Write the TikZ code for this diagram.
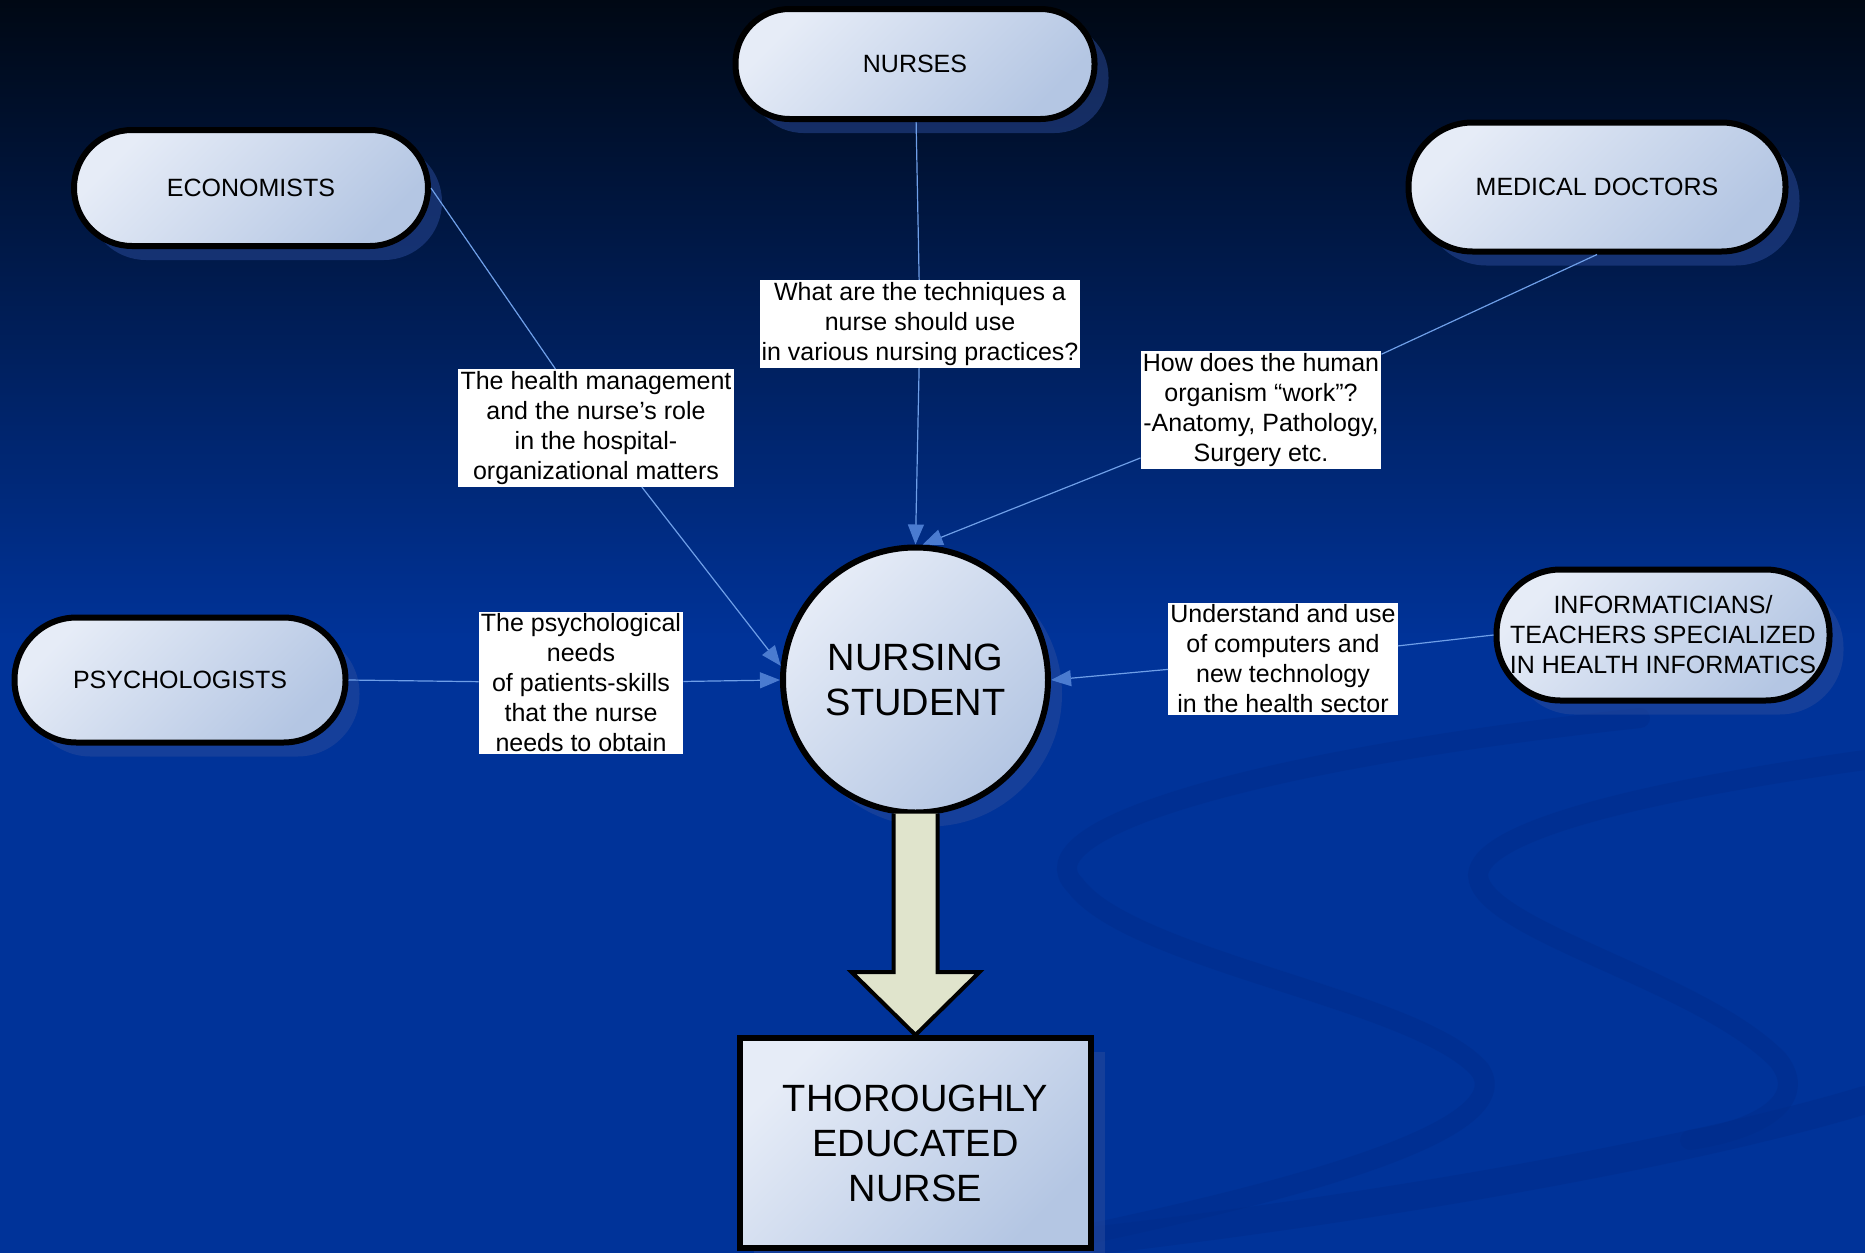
\documentclass[tikz,border=0pt]{standalone}
\usepackage{fontspec}
\setmainfont{Liberation Sans}
\usetikzlibrary{arrows.meta,positioning,calc,shadows}
\pgfdeclarelayer{bglayer}
\pgfsetlayers{bglayer,main}
\definecolor{bgtop}{HTML}{000814}
\definecolor{bgblue}{HTML}{003399}
\definecolor{swoosh}{HTML}{002C8A}
\definecolor{nodehi}{HTML}{E6ECF7}
\definecolor{nodelo}{HTML}{B4C6E3}
\definecolor{shadowblue}{HTML}{2A4B9C}
\definecolor{linkblue}{HTML}{6F9FE8}
\definecolor{tipblue}{HTML}{4A7BD0}
\definecolor{arrowfill}{HTML}{E0E4CC}
\newcommand{\boxfont}{\fontsize{12.5}{15}\selectfont}
\newcommand{\bigfont}{\fontsize{19}{22.5}\selectfont}
\tikzset{every picture/.style={line width=0.5pt}}
\tikzstyle{shape3d}=[draw=black,line width=3pt,top color=nodehi,bottom color=nodelo,shading angle=45,align=center,inner sep=0pt,drop shadow={shadow xshift=7pt,shadow yshift=-7pt,fill=shadowblue,opacity=0.5}]
\tikzstyle{pill}=[shape3d,rectangle,font=\boxfont]
\tikzstyle{lbl}=[fill=white,inner sep=1pt,align=center,font=\boxfont]
\tikzstyle{link}=[draw=linkblue,line width=0.6pt]
\tikzstyle{bigarrow}=[fill=arrowfill,draw=black,line width=2pt,line join=miter]
\tikzstyle{band}=[swoosh,opacity=0.45,line width=10pt,line cap=round]

\begin{document}
\begin{tikzpicture}[x=0.5pt,y=-0.5pt]
\useasboundingbox (0,0) rectangle (1865,1253);
\begin{pgfonlayer}{bglayer}
\fill[bgblue] (0,0) rectangle (1865,1253);
\shade[top color=bgtop,bottom color=bgblue] (0,0) rectangle (1865,640);
% swooshes
\draw[band] (1640,718) .. controls (1250,760) and (1020,830) .. (1075,885) .. controls (1130,960) and (1420,1000) .. (1480,1070) .. controls (1520,1130) and (1300,1190) .. (1060,1240);
\draw[band] (1865,760) .. controls (1650,790) and (1480,830) .. (1478,875) .. controls (1480,930) and (1700,980) .. (1778,1060) .. controls (1810,1100) and (1760,1130) .. (1690,1140);
\draw[band,line width=14pt] (1100,1240) .. controls (1400,1205) and (1700,1150) .. (1865,1100);
\end{pgfonlayer}

\node[pill,rounded corners=27pt,minimum width=179.5pt,minimum height=55pt] (nurses) at (915,64) {NURSES};
\node[pill,rounded corners=29pt,minimum width=177pt,minimum height=58pt] (econ) at (251,188) {ECONOMISTS};
\node[pill,rounded corners=32pt,minimum width=188.5pt,minimum height=64.5pt] (md) at (1597,187) {MEDICAL DOCTORS};
\node[pill,rounded corners=31pt,minimum width=165.5pt,minimum height=62.5pt] (psy) at (180,680) {PSYCHOLOGISTS};
\node[pill,rounded corners=32pt,minimum width=166.5pt,minimum height=65.5pt] (info) at (1663,635) {INFORMATICIANS/\\TEACHERS SPECIALIZED\\IN HEALTH INFORMATICS};
\node[shape3d,circle,minimum size=132.5pt,font=\bigfont] (stu) at (915.5,680) {NURSING\\STUDENT};
\node[shape3d,rectangle,minimum width=175.5pt,minimum height=105pt,font=\bigfont] (edu) at (915.5,1143) {THOROUGHLY\\EDUCATED\\NURSE};

\node[lbl] (lblN) at (920,324) {What are the techniques a\\nurse should use\\in various nursing practices?};
\node[lbl] (lblE) at (596,428) {The health management\\and the nurse’s role\\in the hospital-\\organizational matters};
\node[lbl] (lblM) at (1261,410) {How does the human\\organism “work”?\\-Anatomy, Pathology,\\Surgery etc.};
\node[lbl] (lblP) at (581,683) {The psychological\\needs\\of patients-skills\\that the nurse\\needs to obtain};
\node[lbl] (lblI) at (1283,659) {Understand and use\\of computers and\\new technology\\in the health sector};

\path[link]
(nurses) edge (lblN)
(econ.east) edge (lblE)
(md.south) edge (lblM)
(psy.east) edge (lblP)
(info.west) edge (lblI);
\path[link,-{Triangle[length=10pt,width=8pt,color=tipblue]}]
(lblN) edge (stu.north)
(lblE) edge (stu.174)
(lblM) edge (stu.87)
(lblP) edge (stu.west)
(lblI) edge (stu.east);

\draw[bigarrow] ($(stu.south)+(-22,-2)$) -- ($(edu.north)+(-22,-63)$) -- ++(-42,0) -- (edu.north) -- ($(edu.north)+(64,-63)$) -- ++(-42,0) -- ($(stu.south)+(22,-2)$);
\end{tikzpicture}
\end{document}
